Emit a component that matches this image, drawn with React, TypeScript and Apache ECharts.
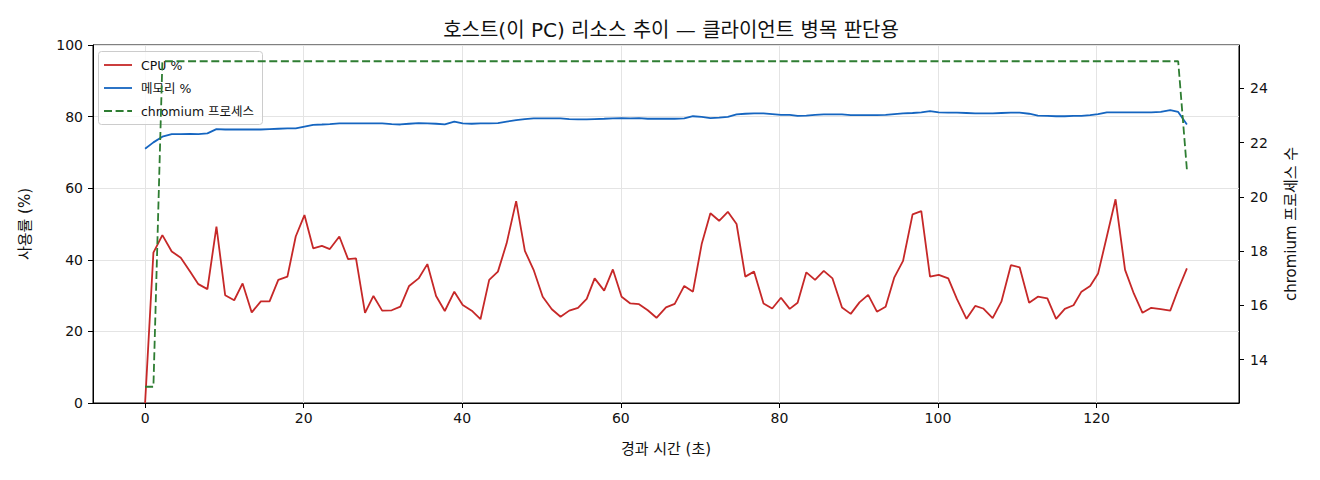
import React, { useEffect, useRef } from "react";
import * as echarts from "echarts";

const times = [
  0, 1.05, 2.18, 3.36, 4.5, 5.67, 6.72, 7.86, 9.0, 10.1, 11.24, 12.3, 13.45, 14.6, 15.7, 16.8, 17.95, 19.0, 20.1, 21.2,
  22.3, 23.3, 24.5, 25.6, 26.6, 27.74, 28.8, 29.9, 31.1, 32.2, 33.3, 34.5, 35.6, 36.7, 37.8, 39.0, 40.06, 41.2, 42.3, 43.4,
  44.5, 45.6, 46.8, 47.9, 49.0, 50.15, 51.3, 52.4, 53.5, 54.6, 55.7, 56.7, 57.9, 59.0, 60.1, 61.2, 62.3, 63.4, 64.5, 65.7,
  66.8, 68.0, 69.1, 70.2, 71.3, 72.4, 73.5, 74.6, 75.7, 76.8, 78.0, 79.1, 80.2, 81.3, 82.3, 83.4, 84.5, 85.6, 86.7, 87.9,
  89.0, 90.1, 91.2, 92.3, 93.4, 94.5, 95.6, 96.8, 97.9, 99.0, 100.1, 101.3, 102.4, 103.6, 104.7, 105.7, 106.9, 108.0, 109.2, 110.3,
  111.5, 112.6, 113.8, 114.9, 116.0, 117.1, 118.1, 119.2, 120.2, 121.3, 122.4, 123.6, 124.7, 125.8, 126.9, 128.1, 129.3, 130.3, 131.4,
];

const cpuPct = [
  0, 42.0, 46.9, 42.3, 40.6, 36.7, 33.2, 31.8, 49.3, 30.1, 28.7, 33.4, 25.3, 28.4, 28.4, 34.4, 35.3, 46.5, 52.5, 43.2,
  43.9, 43.0, 46.5, 40.2, 40.4, 25.2, 29.9, 25.8, 25.9, 26.9, 32.7, 34.8, 38.8, 29.9, 25.7, 31.1, 27.4, 25.8, 23.4, 34.4,
  36.7, 44.6, 56.4, 42.5, 37.2, 29.7, 26.2, 24.1, 25.8, 26.6, 29.1, 34.8, 31.4, 37.3, 29.7, 27.8, 27.6, 25.9, 23.8, 26.7,
  27.7, 32.7, 31.1, 44.4, 53.0, 50.9, 53.4, 50.0, 35.3, 36.7, 27.8, 26.4, 29.4, 26.3, 28.0, 36.5, 34.4, 36.9, 34.8, 26.7,
  24.9, 28.1, 30.2, 25.5, 26.9, 35.1, 39.7, 52.7, 53.6, 35.3, 35.8, 34.8, 29.0, 23.5, 27.1, 26.4, 23.7, 28.3, 38.5, 37.9,
  28.0, 29.7, 29.2, 23.5, 26.3, 27.3, 31.1, 32.7, 36.2, 46.5, 56.9, 37.2, 30.6, 25.2, 26.6, 26.2, 25.8, 31.7, 37.6,
];

const memPct = [
  71.0, 72.8, 74.4, 75.1, 75.1, 75.2, 75.1, 75.3, 76.5, 76.4, 76.4, 76.4, 76.4, 76.4, 76.5, 76.6, 76.7, 76.7, 77.2, 77.7,
  77.8, 77.9, 78.1, 78.1, 78.1, 78.1, 78.1, 78.1, 77.9, 77.8, 78.0, 78.2, 78.1, 78.0, 77.8, 78.6, 78.1, 78.0, 78.1, 78.1,
  78.2, 78.6, 79.0, 79.3, 79.5, 79.5, 79.5, 79.5, 79.3, 79.2, 79.2, 79.3, 79.4, 79.5, 79.6, 79.5, 79.6, 79.4, 79.4, 79.4,
  79.4, 79.5, 80.1, 79.9, 79.6, 79.7, 79.9, 80.6, 80.8, 80.9, 80.9, 80.7, 80.5, 80.5, 80.2, 80.3, 80.5, 80.6, 80.6, 80.6,
  80.4, 80.4, 80.4, 80.4, 80.5, 80.7, 80.9, 81.0, 81.2, 81.5, 81.2, 81.1, 81.1, 81.0, 80.9, 80.9, 80.9, 81.0, 81.1, 81.1,
  80.8, 80.3, 80.2, 80.1, 80.1, 80.2, 80.2, 80.4, 80.7, 81.2, 81.2, 81.2, 81.2, 81.2, 81.2, 81.3, 81.8, 81.3, 77.8,
];

const chromiumProcs = [
  13, 13, 25, 25, 25, 25, 25, 25, 25, 25, 25, 25, 25, 25, 25, 25, 25, 25, 25, 25,
  25, 25, 25, 25, 25, 25, 25, 25, 25, 25, 25, 25, 25, 25, 25, 25, 25, 25, 25, 25,
  25, 25, 25, 25, 25, 25, 25, 25, 25, 25, 25, 25, 25, 25, 25, 25, 25, 25, 25, 25,
  25, 25, 25, 25, 25, 25, 25, 25, 25, 25, 25, 25, 25, 25, 25, 25, 25, 25, 25, 25,
  25, 25, 25, 25, 25, 25, 25, 25, 25, 25, 25, 25, 25, 25, 25, 25, 25, 25, 25, 25,
  25, 25, 25, 25, 25, 25, 25, 25, 25, 25, 25, 25, 25, 25, 25, 25, 25, 25, 21,
];

const xTicks = [0, 20, 40, 60, 80, 100, 120];
const rightTicks = [14, 16, 18, 20, 22, 24];

const seriesNames = ["CPU %", "메모리 %", "chromium 프로세스"];
const titleText = "호스트(이 PC) 리소스 추이 — 클라이언트 병목 판단용";
const xName = "경과 시간 (초)";
const yLeftName = "사용률 (%)";
const yRightName = "chromium 프로세스 수";

const RED = "#c62828";
const BLUE = "#1565c0";
const GREEN = "#2e7d32";
const FONT = "'DejaVu Sans', 'Noto Sans CJK KR', sans-serif";

export default function App() {
  const ref = useRef<HTMLDivElement>(null);
  useEffect(() => {
    if (!ref.current) return;
    const chart = echarts.init(ref.current, null, { renderer: "svg" });
    const pairs = (vals: number[]) => times.map((t, i) => [t, vals[i]]);
    const legendRows = [
      { name: seriesNames[0], color: RED, dash: null as any, y: 65 },
      { name: seriesNames[1], color: BLUE, dash: null as any, y: 88 },
      { name: seriesNames[2], color: GREEN, dash: [8, 3.6], y: 111 },
    ];
    const legendEls: any[] = [
      {
        type: "rect",
        shape: { x: 98.5, y: 51.5, width: 164, height: 73, r: 3 },
        style: { fill: "rgba(255,255,255,0.8)", stroke: "#cccccc", lineWidth: 1 },
        z: 1,
      },
    ];
    legendRows.forEach((r) => {
      legendEls.push({
        type: "line",
        shape: { x1: 104, y1: r.y, x2: 132, y2: r.y },
        style: { stroke: r.color, lineWidth: 1.8, lineDash: r.dash || undefined },
        z: 1,
      });
      legendEls.push({
        type: "text",
        x: 141,
        y: r.y,
        style: {
          text: r.name,
          font: `12.5px ${FONT}`,
          fill: "#111",
          verticalAlign: "middle",
        },
        z: 1,
      });
    });

    const axisCommonLabel = { color: "#111", fontSize: 14, fontFamily: FONT };
    const nameStyle = { fontSize: 15, color: "#111", fontFamily: FONT };
    chart.setOption({
      animation: false,
      title: {
        text: titleText,
        left: 666,
        top: 15,
        textAlign: "center",
        textStyle: { fontSize: 20, fontWeight: "normal", color: "#111", fontFamily: FONT },
      },
      grid: {
        left: 93,
        right: 81,
        top: 45,
        bottom: 77,
        show: true,
        borderColor: "#000",
        borderWidth: 1,
        backgroundColor: "transparent",
      },
      graphic: legendEls,
      xAxis: {
        type: "value",
        min: -6.57,
        max: 137.97,
        name: xName,
        nameLocation: "middle",
        nameGap: 38,
        nameTextStyle: nameStyle,
        axisLine: { show: true, onZero: false, lineStyle: { color: "#000", width: 1 } },
        axisTick: { show: true, inside: false, length: 5, customValues: xTicks, lineStyle: { color: "#000" } },
        axisLabel: { ...axisCommonLabel, margin: 8, customValues: xTicks },
        splitLine: { show: true, lineStyle: { color: "#e4e4e4", width: 1 } },
      },
      yAxis: [
        {
          type: "value",
          min: 0,
          max: 100,
          interval: 20,
          position: "left",
          name: yLeftName,
          nameLocation: "middle",
          nameGap: 61,
          nameRotate: 90,
          nameTextStyle: nameStyle,
          axisLine: { show: true, onZero: false, lineStyle: { color: "#000", width: 1 } },
          axisTick: { show: true, inside: false, length: 5, lineStyle: { color: "#000" } },
          axisLabel: { ...axisCommonLabel, margin: 10 },
          splitLine: { show: true, lineStyle: { color: "#e4e4e4", width: 1 } },
        },
        {
          type: "value",
          min: 12.4,
          max: 25.6,
          position: "right",
          name: yRightName,
          nameLocation: "middle",
          nameGap: 44,
          nameRotate: 90,
          nameTextStyle: nameStyle,
          axisLine: { show: true, onZero: false, lineStyle: { color: "#000", width: 1 } },
          axisTick: { show: true, inside: false, length: 5, customValues: rightTicks, lineStyle: { color: "#000" } },
          axisLabel: { ...axisCommonLabel, margin: 11, customValues: rightTicks },
          splitLine: { show: false },
        },
      ],
      series: [
        {
          name: seriesNames[0],
          type: "line",
          yAxisIndex: 0,
          data: pairs(cpuPct),
          showSymbol: false,
          symbol: "none",
          lineStyle: { color: RED, width: 1.8 },
          itemStyle: { color: RED },
          z: 2,
        },
        {
          name: seriesNames[1],
          type: "line",
          yAxisIndex: 0,
          data: pairs(memPct),
          showSymbol: false,
          symbol: "none",
          lineStyle: { color: BLUE, width: 1.8 },
          itemStyle: { color: BLUE },
          z: 2,
        },
        {
          name: seriesNames[2],
          type: "line",
          yAxisIndex: 1,
          data: pairs(chromiumProcs),
          showSymbol: false,
          symbol: "none",
          lineStyle: { color: GREEN, width: 1.8, type: [8, 3.6] },
          itemStyle: { color: GREEN },
          z: 3,
        },
      ],
    });
    return () => chart.dispose();
  }, []);
  return (
    <div
      ref={ref}
      style={{ position: "fixed", left: 0, top: 0, width: 1320, height: 480, background: "#fff" }}
    />
  );
}
